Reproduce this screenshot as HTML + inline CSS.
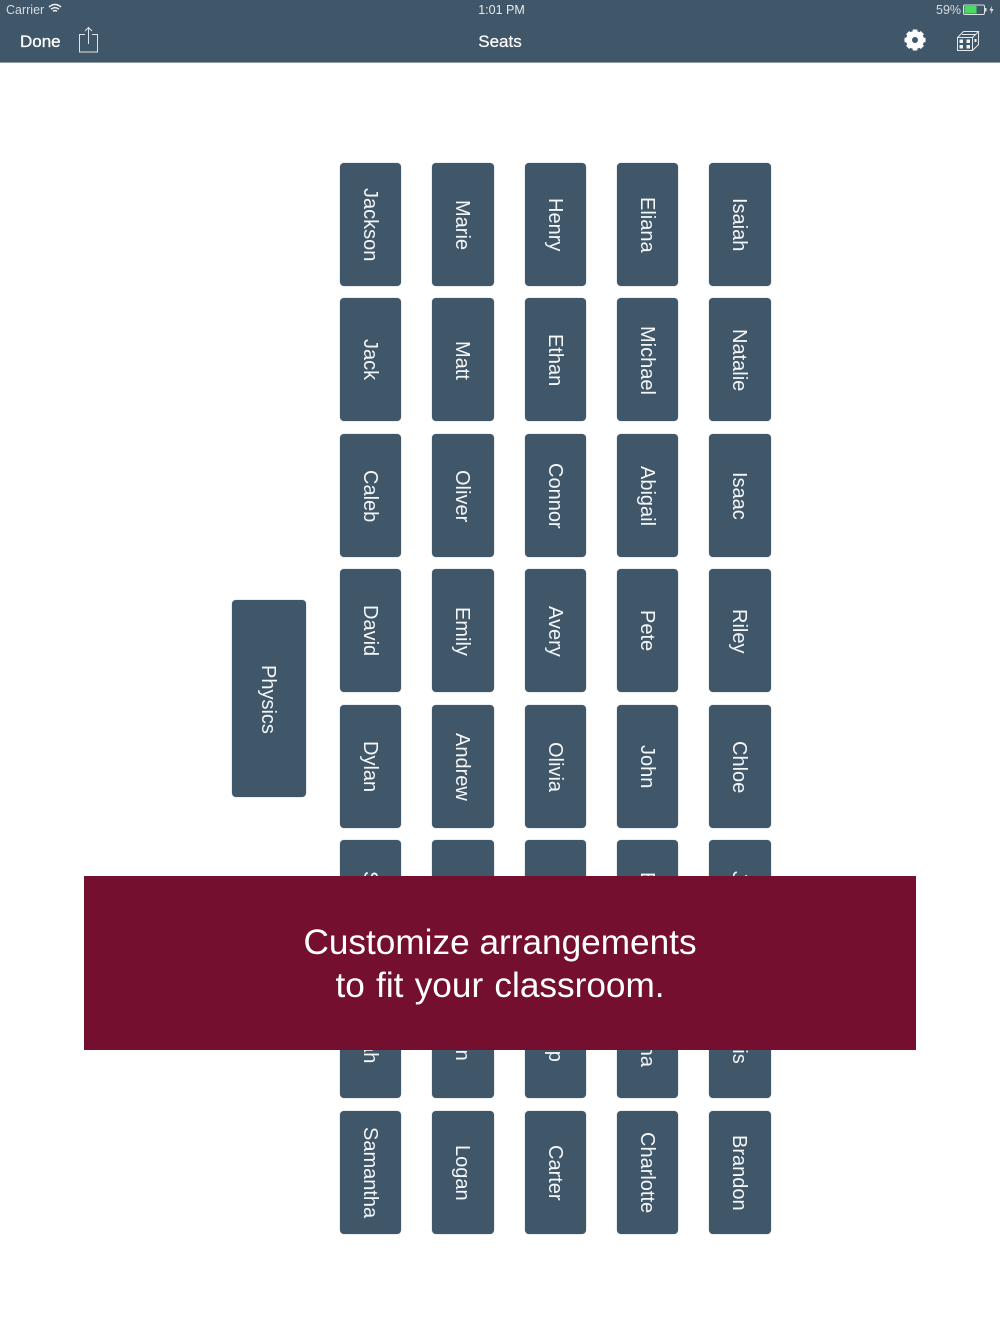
<!DOCTYPE html>
<html><head><meta charset="utf-8"><style>
html,body{margin:0;padding:0;background:#fff}
#p{position:relative;width:1000px;height:1334px;overflow:hidden;background:#fff;font-family:"Liberation Sans",sans-serif}
.bar{position:absolute;left:0;top:0;width:1000px;height:63px;background:#405669;border-bottom:1px solid #8d9aa5;box-sizing:border-box}
.t{position:absolute;color:#fff;white-space:nowrap}
.s{position:absolute;width:62px;height:123px;background:#405669;border-radius:4px;box-shadow:0 0 1px #7f8f9c;color:#f4f6f7;font-size:20px;display:flex;align-items:center;justify-content:center}
.s span{writing-mode:vertical-rl;white-space:nowrap;display:block;margin-left:-3px;margin-top:1px}
.n{width:61px}
.n span{margin-left:-2px}
.b{position:absolute;left:84px;top:876px;width:832px;height:174px;background:#750f2f;color:#fff;font-size:35.2px;line-height:43px;text-align:center;box-sizing:border-box;padding-top:45px}
.b span{word-spacing:1.5px}
svg{position:absolute}
</style></head><body><div id="p">
<div class="bar"></div>
<div class="t" style="left:6px;top:3px;font-size:12.5px;color:#d5dbe0">Carrier</div>
<svg style="left:48px;top:3px" width="14" height="11" viewBox="0 0 14 11" fill="none" stroke="#eef1f3" stroke-width="1.5"><path d="M1 4Q7-1 13 4M3 6.2Q7 3 11 6.2M5 8.2Q7 7 9 8.2"/></svg>
<div class="t" style="left:0;width:1003px;text-align:center;top:3px;font-size:12.5px;color:#e6eaed">1:01 PM</div>
<div class="t" style="left:936px;top:3px;font-size:12.5px;color:#d5dbe0">59%</div>
<svg style="left:962px;top:4px" width="34" height="12" viewBox="0 0 34 12"><rect x="1.5" y="1" width="21" height="9.5" rx="1.5" fill="none" stroke="#dde2e6"/><rect x="2.5" y="2" width="12" height="7.5" fill="#4cd964"/><rect x="23" y="4" width="1.5" height="3.5" fill="#dde2e6"/><path d="M30 1.5 27.5 6.5H29.5L28.5 10.5 31.5 5H29.5Z" fill="#e6eaed"/></svg>
<div class="t" style="left:20px;top:32px;font-size:17px;-webkit-text-stroke:.3px #fff">Done</div>
<svg style="left:78px;top:26px" width="22" height="28" viewBox="0 0 22 28" fill="none" stroke="#dfe4e8" stroke-width="1"><path d="M7 8.5H1.5V26H19.5V8.5H14M10.5 18V1.5M7 5 10.5 1.5 14 5"/></svg>
<div class="t" style="left:0;width:1000px;text-align:center;top:32px;font-size:17px;-webkit-text-stroke:.2px #fff">Seats</div>
<svg style="left:903px;top:28px" width="24" height="24" viewBox="0 0 24 24"><circle cx="12" cy="12" r="6" fill="none" stroke="#fff" stroke-width="6"/><g stroke="#fff" stroke-width="4.6"><path d="M12 1.5V5M12 19V22.5M1.5 12H5M19 12H22.5M4.6 4.6 7 7M17 17 19.4 19.4M4.6 19.4 7 17M17 7 19.4 4.6"/></g></svg>
<svg style="left:956px;top:30px" width="24" height="22" viewBox="0 0 24 22" fill="none" stroke="#e6eaed" stroke-width="1"><path d="M1.5 7.5H16.5V20.5H1.5ZM1.5 7.5 7.5 1.5H22.5L16.5 7.5M22.5 1.5V14.5L16.5 20.5M6 4.5H20"/><g fill="#f2f4f5" stroke="none"><rect x="3.5" y="9.5" width="3.5" height="3.5"/><rect x="10.5" y="9.5" width="3.5" height="3.5"/><rect x="3.5" y="15" width="3.5" height="3.5"/><rect x="10.5" y="15" width="3.5" height="3.5"/><rect x="18.5" y="9" width="2" height="3"/></g></svg>

<div class="s" style="left:232px;top:600px;width:74px;height:197px"><span>Physics</span></div>

<div class="s n" style="left:340px;top:163px"><span>Jackson</span></div>
<div class="s" style="left:432px;top:163px"><span>Marie</span></div>
<div class="s n" style="left:525px;top:163px"><span>Henry</span></div>
<div class="s n" style="left:617px;top:163px"><span>Eliana</span></div>
<div class="s" style="left:709px;top:163px"><span>Isaiah</span></div>

<div class="s n" style="left:340px;top:298px"><span>Jack</span></div>
<div class="s" style="left:432px;top:298px"><span>Matt</span></div>
<div class="s n" style="left:525px;top:298px"><span>Ethan</span></div>
<div class="s n" style="left:617px;top:298px"><span>Michael</span></div>
<div class="s" style="left:709px;top:298px"><span>Natalie</span></div>

<div class="s n" style="left:340px;top:434px"><span>Caleb</span></div>
<div class="s" style="left:432px;top:434px"><span>Oliver</span></div>
<div class="s n" style="left:525px;top:434px"><span>Connor</span></div>
<div class="s n" style="left:617px;top:434px"><span>Abigail</span></div>
<div class="s" style="left:709px;top:434px"><span>Isaac</span></div>

<div class="s n" style="left:340px;top:569px"><span>David</span></div>
<div class="s" style="left:432px;top:569px"><span>Emily</span></div>
<div class="s n" style="left:525px;top:569px"><span>Avery</span></div>
<div class="s n" style="left:617px;top:569px"><span>Pete</span></div>
<div class="s" style="left:709px;top:569px"><span>Riley</span></div>

<div class="s n" style="left:340px;top:705px"><span>Dylan</span></div>
<div class="s" style="left:432px;top:705px"><span>Andrew</span></div>
<div class="s n" style="left:525px;top:705px"><span>Olivia</span></div>
<div class="s n" style="left:617px;top:705px"><span>John</span></div>
<div class="s" style="left:709px;top:705px"><span>Chloe</span></div>

<div class="s n" style="left:340px;top:840px"><span>Sophia</span></div>
<div class="s" style="left:432px;top:840px"><span>Luke</span></div>
<div class="s n" style="left:525px;top:840px"><span>Mia</span></div>
<div class="s n" style="left:617px;top:840px"><span>Evelyn</span></div>
<div class="s" style="left:709px;top:840px"><span>Jordan</span></div>

<div class="s n" style="left:340px;top:975px"><span>Sarah</span></div>
<div class="s" style="left:432px;top:975px"><span>Ryan</span></div>
<div class="s n" style="left:525px;top:975px"><span>Philip</span></div>
<div class="s n" style="left:617px;top:975px"><span>Hanna</span></div>
<div class="s" style="left:709px;top:975px"><span>Travis</span></div>

<div class="s n" style="left:340px;top:1111px"><span>Samantha</span></div>
<div class="s" style="left:432px;top:1111px"><span>Logan</span></div>
<div class="s n" style="left:525px;top:1111px"><span>Carter</span></div>
<div class="s n" style="left:617px;top:1111px"><span>Charlotte</span></div>
<div class="s" style="left:709px;top:1111px"><span>Brandon</span></div>

<div class="b">Customize arrangements<br><span>to fit your classroom.</span></div>
</div></body></html>
